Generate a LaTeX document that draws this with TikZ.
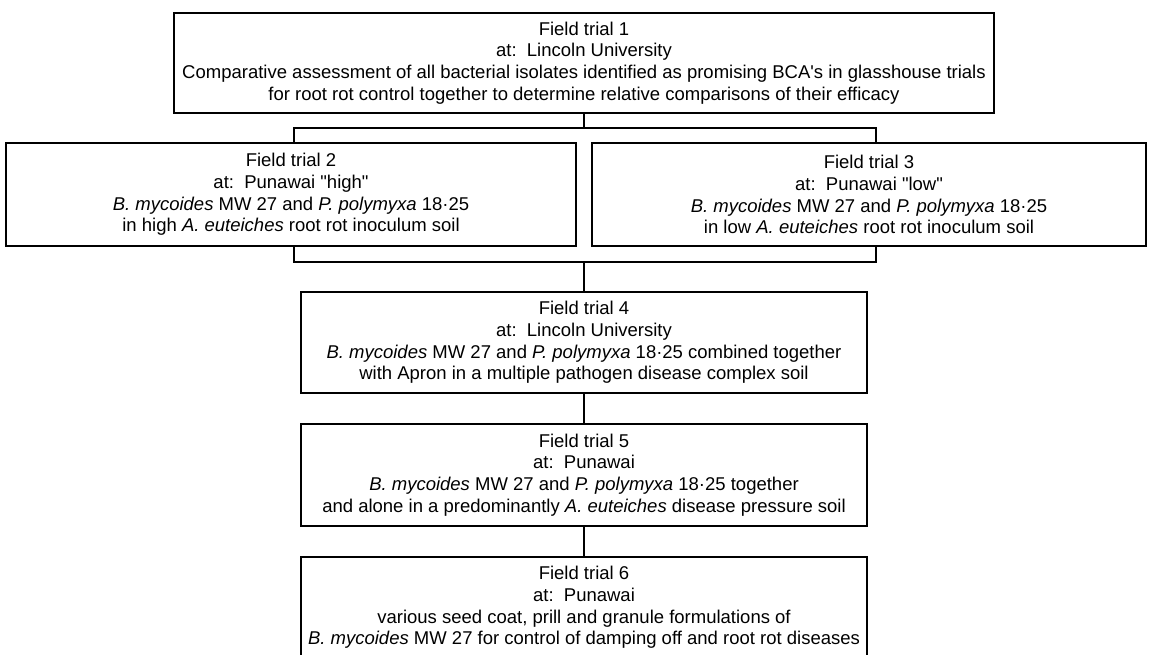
\documentclass[tikz,border=0pt]{standalone}
\usepackage{fontspec}
\setmainfont{Liberation Sans}
\begin{document}
\begin{tikzpicture}[x=1pt,y=-1pt,
  box/.style={draw, line width=1.6pt, fill=white, align=center, inner sep=0pt,
    font=\fontsize{18.5}{21.8}\selectfont},
  conn/.style={line width=1.6pt}]
\useasboundingbox (0,0) rectangle (1149,655);
\fill[white] (0,0) rectangle (1149,655);
% bracket joining trials 2 and 3
\coordinate (btop) at (584,128);
\coordinate (bbot) at (584,262);
\coordinate (bTL) at (294,128);
\coordinate (bBR) at (876,262);
\draw[conn] (bTL) rectangle (bBR);

\node[box, minimum width=820, minimum height=100] (t1) at (584,63)
 {Field trial 1\\ at:\ \ Lincoln University\\
  Comparative assessment of all bacterial isolates identified as promising BCA\textquotesingle s in glasshouse trials\\
  for root rot control together to determine relative comparisons of their efficacy};

\node[box, minimum width=570, minimum height=103] (t2) at (291,194.5)
 {Field trial 2\\ at:\ \ Punawai \textquotedbl high\textquotedbl\\
  \textit{B. mycoides} MW 27 and \textit{P. polymyxa} 18·25\\
  in high \textit{A. euteiches} root rot inoculum soil};

\node[box, minimum width=554, minimum height=103] (t3) at (869,194.5)
 {Field trial 3\\ at:\ \ Punawai \textquotedbl low\textquotedbl\\
  \textit{B. mycoides} MW 27 and \textit{P. polymyxa} 18·25\\
  in low \textit{A. euteiches} root rot inoculum soil};

\node[box, minimum width=566, minimum height=101] (t4) at (584,342.5)
 {Field trial 4\\ at:\ \ Lincoln University\\
  \textit{B. mycoides} MW 27 and \textit{P. polymyxa} 18·25 combined together\\
  with Apron in a multiple pathogen disease complex soil};

\node[box, minimum width=566, minimum height=102] (t5) at (584,475)
 {Field trial 5\\ at:\ \ Punawai\\
  \textit{B. mycoides} MW 27 and \textit{P. polymyxa} 18·25 together\\
  and alone in a predominantly \textit{A. euteiches} disease pressure soil};

\node[box, minimum width=566, minimum height=101] (t6) at (584,607.5)
 {Field trial 6\\ at:\ \ Punawai\\
  various seed coat, prill and granule formulations of\\
  \textit{B. mycoides} MW 27 for control of damping off and root rot diseases};

\draw[conn] (t1.south) -- (btop);
\draw[conn] (bbot) -- (t4.north);
\draw[conn] (t4.south) -- (t5.north);
\draw[conn] (t5.south) -- (t6.north);
\end{tikzpicture}
\end{document}
